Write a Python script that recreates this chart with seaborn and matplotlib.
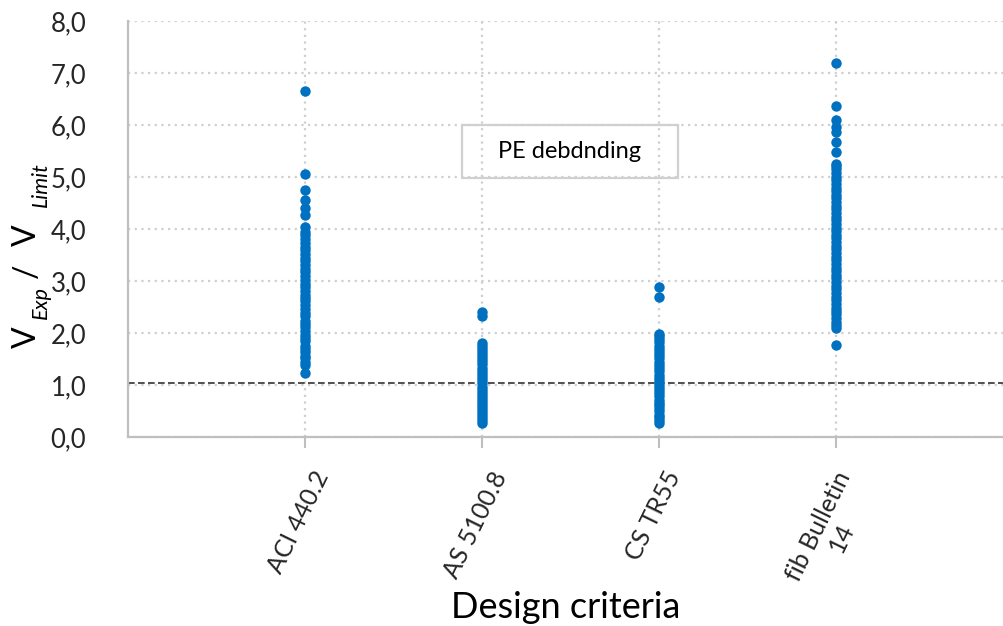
import pandas as pd
import matplotlib.pyplot as plt
import matplotlib.transforms as mtransforms
import seaborn as sns
from matplotlib.patches import Rectangle

sns.set_theme(style="white")
plt.rcParams["font.family"] = ["Lato", "DejaVu Sans"]

criteria = ["ACI 440.2", "AS 5100.8", "CS TR55", "fib Bulletin\n14"]

aci = [1.23, 1.38, 1.45, 1.51, 1.56, 1.63, 1.70, 1.76, 1.84, 1.90, 1.97, 2.04,
       2.11, 2.18, 2.24, 2.32, 2.39, 2.46, 2.53, 2.61, 2.67, 2.74, 2.81, 2.88,
       2.95, 3.02, 3.09, 3.17, 3.23, 3.30, 3.38, 3.45, 3.52, 3.59, 3.66, 3.74,
       3.81, 3.88, 3.94, 4.05, 4.27, 4.40, 4.56, 4.75, 5.07, 6.66]
as5100 = [0.27, 0.32, 0.38, 0.44, 0.50, 0.55, 0.61, 0.67, 0.73, 0.79, 0.85, 0.91,
          0.97, 1.03, 1.09, 1.15, 1.21, 1.27, 1.33, 1.40, 1.46, 1.52, 1.58, 1.64,
          1.70, 1.75, 1.80, 2.32, 2.40]
cs_tr55 = [0.27, 0.32, 0.38, 0.43, 0.49, 0.55, 0.61, 0.66, 0.72, 0.78, 0.84, 0.90,
           0.96, 1.02, 1.08, 1.14, 1.20, 1.26, 1.32, 1.38, 1.45, 1.51, 1.57, 1.63,
           1.69, 1.76, 1.82, 1.88, 1.94, 1.99, 2.69, 2.88]
fib = [1.77, 2.09, 2.15, 2.22, 2.29, 2.36, 2.42, 2.49, 2.56, 2.63, 2.70, 2.77,
       2.84, 2.91, 2.98, 3.05, 3.12, 3.19, 3.26, 3.33, 3.40, 3.47, 3.54, 3.61,
       3.68, 3.75, 3.82, 3.89, 3.96, 4.03, 4.10, 4.17, 4.24, 4.31, 4.38, 4.45,
       4.52, 4.59, 4.66, 4.73, 4.80, 4.87, 4.94, 5.01, 5.08, 5.15, 5.21, 5.25,
       5.49, 5.68, 5.86, 5.97, 6.10, 6.37, 7.20]

limit_line = 1.04
ytick_values = [0, 1, 2, 3, 4, 5, 6, 7, 8]
ytick_labels = ["0,0", "1,0", "2,0", "3,0", "4,0", "5,0", "6,0", "7,0", "8,0"]

series = [aci, as5100, cs_tr55, fib]
df = pd.DataFrame({
    "criteria": [c for c, vals in zip(criteria, series) for _ in vals],
    "ratio": [v for vals in series for v in vals],
})

W, H = 1004, 626
fig = plt.figure(figsize=(W / 100, H / 100), dpi=100)
ax = fig.add_axes([0.1275, 0.302, 0.8725, 0.664])

sns.stripplot(data=df, x="criteria", y="ratio", order=criteria, jitter=False,
              color="#0070C0", size=7.5, linewidth=0, ax=ax, zorder=3)

ax.set_xlim(-1, 3.95)
ax.set_ylim(0, 8)
ax.set_yticks(ytick_values)
ax.set_yticklabels(ytick_labels, fontsize=18.5, color="#262626")
ax.tick_params(axis="y", length=0, pad=30)
ax.tick_params(axis="x", length=8, width=1.5, color="#BFBFBF", direction="out",
               bottom=True, pad=14)
shift = mtransforms.ScaledTranslation(-6 / 100, 0, fig.dpi_scale_trans)
for lab in ax.get_xticklabels():
    lab.set_rotation(64)
    lab.set_ha("center")
    lab.set_va("top")
    lab.set_fontsize(18)
    lab.set_multialignment("center")
    lab.set_color("#262626")
    lab.set_transform(lab.get_transform() + shift)

ax.grid(True, axis="both", color="#CFCFCF", linestyle=(0, (1, 2)), linewidth=1.6)
ax.set_axisbelow(True)
for side in ["top", "right"]:
    ax.spines[side].set_visible(False)
for side in ["left", "bottom"]:
    ax.spines[side].set_color("#BFBFBF")
    ax.spines[side].set_linewidth(1.6)

ax.axhline(limit_line, color="#333333", linestyle=(0, (4, 2)), linewidth=1.2, zorder=2)

ax.add_patch(Rectangle((0.381, 0.623), 0.247, 0.127, transform=ax.transAxes,
                       fill=False, edgecolor="#D0D0D0", linewidth=1.6, zorder=4))
ax.text(0.5046, 0.686, "PE debdnding", transform=ax.transAxes, ha="center",
        va="center", fontsize=17, color="#000000", zorder=5)

ax.set_ylabel("")
# y label built from pieces: (text, start y px, baseline x px, size, style)
ylabel_parts = [("V", 348, 36, 23, "normal"),
                ("Exp", 319, 47, 15.5, "italic"),
                ("/", 278, 36, 23, "normal"),
                ("V", 246, 36, 23, "normal"),
                ("Limit", 207, 47, 15.5, "italic")]
for txt, py, px, size, style in ylabel_parts:
    fig.text(px / W, 1 - py / H, txt, rotation=90, rotation_mode="anchor",
             ha="left", va="baseline", fontsize=size, fontstyle=style,
             color="#000000")

ax.set_xlabel("Design criteria", fontsize=26, color="#000000")
ax.xaxis.set_label_coords(0.5, -0.37)
ax.xaxis.label.set_va("top")

fig.savefig("out.png", dpi=100, facecolor="white")
